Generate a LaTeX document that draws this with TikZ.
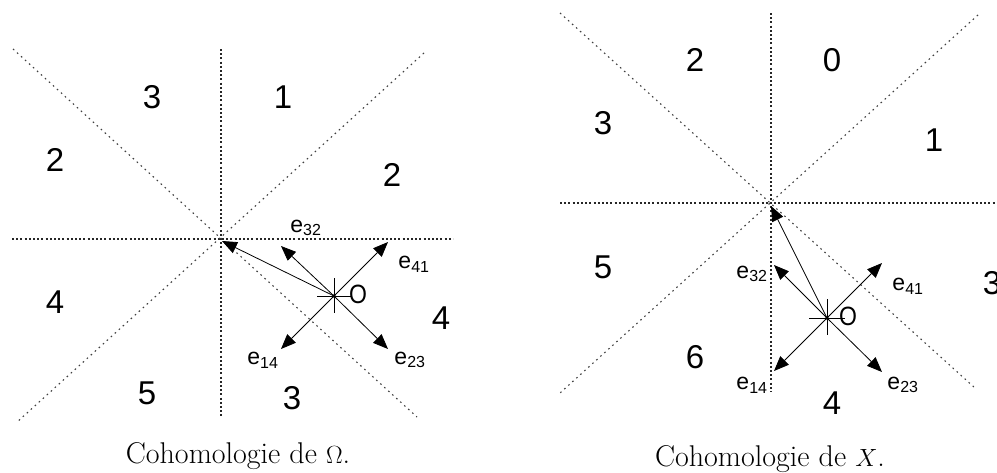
\documentclass[tikz,border=0pt]{standalone}
\usepackage{fontspec}
\newfontfamily\arialf{Liberation Sans}
\usetikzlibrary{arrows.meta}
\begin{document}
\begin{tikzpicture}[x=1pt,y=-1pt,
  axis/.style={line width=1.2pt, dash pattern=on 2pt off 2.2pt, black!85},
  diag/.style={line width=1.1pt, dash pattern=on 1.6pt off 3.8pt, black!75},
  vec/.style={line width=0.8pt, -{Triangle[length=15pt,width=12pt]}},
  crossmark/.style={line width=0.8pt},
  num/.style={font=\arialf\fontsize{33}{33}\selectfont, inner sep=0pt},
  lab/.style={font=\arialf\fontsize{23}{23}\selectfont, inner sep=0pt},
  olab/.style={font=\arialf\fontsize{23}{23}\selectfont, inner sep=0pt, yscale=1.15},
  captext/.style={font=\fontsize{30}{30}\selectfont, inner sep=0pt}]
\useasboundingbox (0,0) rectangle (997,472);
\clip (0,0) rectangle (997,472);
% ---------- left panel ----------
\coordinate (A) at (221,239);
\draw[axis] (221,49) -- (221,418);
\draw[axis] (12,239) -- (453,239);
\draw[diag] (13,49) -- (417,417);
\draw[diag] (424,53) -- (16,423);
\coordinate (OA) at (334,296);
\draw[crossmark] (334,278) -- (334,313);
\draw[crossmark] (317,296) -- (351,296);
\fill (OA) circle (1.8);
\node[olab] (oA) at (358,294) {O};
\coordinate (cA) at (222,241);
\coordinate (t32A) at (281,246);
\coordinate (t41A) at (388,242);
\coordinate (t14A) at (281,349);
\coordinate (t23A) at (388,349);
\draw[vec] (OA) -- (cA);
\draw[vec] (OA) -- (t32A);
\draw[vec] (OA) -- (t41A);
\draw[vec] (OA) -- (t14A);
\draw[vec] (OA) -- (t23A);
\node[lab] (l32A) at (306,228) {e$_{\hbox{\arialf\fontsize{16}{16}\selectfont 32}}$};
\node[lab] (l41A) at (414,264) {e$_{\hbox{\arialf\fontsize{16}{16}\selectfont 41}}$};
\node[lab] (l14A) at (263,360) {e$_{\hbox{\arialf\fontsize{16}{16}\selectfont 14}}$};
\node[lab] (l23A) at (410,360) {e$_{\hbox{\arialf\fontsize{16}{16}\selectfont 23}}$};
\node[num] (n3a) at (152,97) {3};
\node[num] (n1a) at (283,97) {1};
\node[num] (n2a) at (55,160) {2};
\node[num] (n2b) at (392,175) {2};
\node[num] (n4a) at (55,302) {4};
\node[num] (n4b) at (441,318) {4};
\node[num] (n5a) at (147,393) {5};
\node[num] (n3b) at (292,398) {3};
\node[captext] (capA) at (238,456) {Cohomologie de $\Omega$.};
% ---------- right panel ----------
\coordinate (B) at (771,203);
\draw[axis] (771,13) -- (771,392);
\draw[axis] (560,203) -- (997,203);
\draw[diag] (560,13) -- (975,388);
\draw[diag] (978,15) -- (560,393);
\coordinate (OB) at (827,318);
\draw[crossmark] (827,299) -- (827,335);
\draw[crossmark] (809,318) -- (845,318);
\fill (OB) circle (1.8);
\node[olab] (oB) at (848,316) {O};
\coordinate (cB) at (771,206);
\coordinate (t32B) at (774,265);
\coordinate (t41B) at (882,263);
\coordinate (t14B) at (774,371);
\coordinate (t23B) at (882,372);
\draw[vec] (OB) -- (cB);
\draw[vec] (OB) -- (t32B);
\draw[vec] (OB) -- (t41B);
\draw[vec] (OB) -- (t14B);
\draw[vec] (OB) -- (t23B);
\node[lab] (l32B) at (752,274) {e$_{\hbox{\arialf\fontsize{16}{16}\selectfont 32}}$};
\node[lab] (l41B) at (908,286) {e$_{\hbox{\arialf\fontsize{16}{16}\selectfont 41}}$};
\node[lab] (l14B) at (752,385) {e$_{\hbox{\arialf\fontsize{16}{16}\selectfont 14}}$};
\node[lab] (l23B) at (903,385) {e$_{\hbox{\arialf\fontsize{16}{16}\selectfont 23}}$};
\node[num] (m2a) at (695,60) {2};
\node[num] (m0a) at (832,60) {0};
\node[num] (m3a) at (603,123) {3};
\node[num] (m1a) at (934,140) {1};
\node[num] (m5a) at (603,267) {5};
\node[num] (m3b) at (992,283) {3};
\node[num] (m6a) at (695,357) {6};
\node[num] (m4a) at (832,403) {4};
\node[captext] (capB) at (770,459) {Cohomologie de $X$.};
\end{tikzpicture}
\end{document}
